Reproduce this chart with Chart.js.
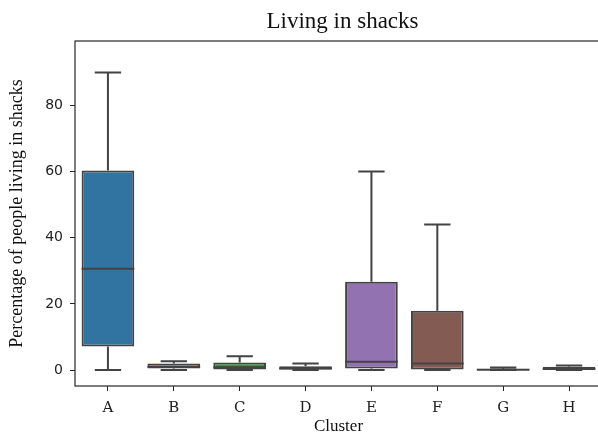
<!DOCTYPE html>
<html>
<head>
<meta charset="utf-8">
<script src="https://cdn.jsdelivr.net/npm/chart.js@4.4.1/dist/chart.umd.min.js"></script>
<style>
  html, body { margin: 0; padding: 0; background: #ffffff; overflow: hidden; }
  #wrap { position: relative; width: 604px; height: 434px; }
</style>
</head>
<body>
<div id="wrap"><canvas id="c" width="604" height="434"></canvas></div>
<script>
// ---- data ----
const categories = ['A', 'B', 'C', 'D', 'E', 'F', 'G', 'H'];
const whiskerLow  = [0.0, 0.0, 0.0, 0.0, 0.0, 0.0, 0.0, 0.0];
const quartile1   = [7.1, 0.5, 0.2, 0.0, 0.5, 0.2, 0.0, 0.0];
const medians     = [30.6, 1.0, 0.9, 0.5, 2.5, 2.0, 0.1, 0.3];
const quartile3   = [60.3, 2.0, 2.3, 1.2, 26.7, 17.9, 0.4, 1.0];
const whiskerHigh = [89.9, 2.7, 4.2, 2.0, 60.0, 44.0, 0.8, 1.4];
const yTickValues = [0, 20, 40, 60, 80];
const boxColors = ['#3274a1', '#e1812c', '#3a923a', '#c03d3e', '#9372b2', '#845b53', '#d684bd', '#7f7f7f'];

const LINE = '#434343';

const boxPlugin = {
  id: 'boxParts',
  afterLayout(chart) {
    // centre the title over the axes, as matplotlib does
    const tb = chart.titleBlock;
    if (tb) { tb.left = chart.chartArea.left + 4; tb.right = chart.chartArea.right + 4; }
  },
  afterDatasetsDraw(chart) {
    const ctx = chart.ctx;
    const xs = chart.scales.x, ys = chart.scales.y;
    const meta = chart.getDatasetMeta(0);
    ctx.save();
    ctx.strokeStyle = LINE;
    ctx.lineWidth = 2;
    ctx.lineCap = 'butt';
    categories.forEach((c, i) => {
      const x = xs.getPixelForValue(i);
      const bw = meta.data[i].width;
      const capHalf = bw / 4;
      const yMin = ys.getPixelForValue(whiskerLow[i]);
      const yQ1 = ys.getPixelForValue(quartile1[i]);
      const yMed = ys.getPixelForValue(medians[i]);
      const yQ3 = ys.getPixelForValue(quartile3[i]);
      const yMax = ys.getPixelForValue(whiskerHigh[i]);
      ctx.beginPath();
      ctx.moveTo(x, yQ3); ctx.lineTo(x, yMax);
      ctx.moveTo(x - capHalf, yMax); ctx.lineTo(x + capHalf, yMax);
      ctx.moveTo(x, yQ1); ctx.lineTo(x, yMin);
      ctx.moveTo(x - capHalf, yMin); ctx.lineTo(x + capHalf, yMin);
      ctx.moveTo(x - bw / 2, yMed); ctx.lineTo(x + bw / 2, yMed);
      ctx.stroke();
    });
    const a = chart.chartArea;
    ctx.strokeStyle = '#262626';
    ctx.lineWidth = 1.2;
    ctx.strokeRect(a.left, a.top, a.right - a.left, a.bottom - a.top);
    ctx.restore();
  }
};

new Chart(document.getElementById('c'), {
  type: 'bar',
  data: {
    labels: categories,
    datasets: [{
      data: categories.map((c, i) => [quartile1[i], quartile3[i]]),
      backgroundColor: boxColors,
      borderColor: LINE,
      borderWidth: 2,
      borderSkipped: false,
      barPercentage: 0.8,
      categoryPercentage: 1.0
    }]
  },
  options: {
    responsive: false,
    animation: false,
    devicePixelRatio: 1,
    layout: { padding: { left: 0, right: 2, top: 0, bottom: 0 } },
    plugins: {
      legend: { display: false },
      tooltip: { enabled: false },
      title: {
        display: true,
        text: 'Living in shacks',
        color: '#111',
        font: { family: 'Liberation Serif', size: 23, weight: 'normal' },
        padding: { top: 8, bottom: 5.4 }
      }
    },
    scales: {
      x: {
        type: 'category',
        offset: true,
        afterFit(s) { s.height = 48; },
        grid: { display: true, offset: false, drawOnChartArea: false, drawTicks: true, tickLength: 5, color: '#262626', lineWidth: 1 },
        border: { display: false },
        ticks: { color: '#222', padding: 8, font: { family: 'DejaVu Serif', size: 15 } },
        title: { display: true, text: 'Cluster', color: '#111', font: { family: 'Liberation Serif', size: 17, lineHeight: 0.9 }, padding: { top: 0, bottom: 0 } }
      },
      y: {
        min: -4.8,
        max: 99.4,
        afterFit(s) { s.width = 75; },
        afterBuildTicks(s) { s.ticks = yTickValues.map(v => ({ value: v })); },
        grid: { display: true, drawOnChartArea: false, drawTicks: true, tickLength: 5, color: '#262626', lineWidth: 1 },
        border: { display: false },
        ticks: { color: '#222', padding: 7, font: { family: 'DejaVu Sans', size: 14 } },
        title: { display: true, text: 'Percentage of people living in shacks', color: '#111', font: { family: 'Liberation Serif', size: 18 }, padding: { top: 6, bottom: 0 } }
      }
    }
  },
  plugins: [boxPlugin]
});
</script>
</body>
</html>
